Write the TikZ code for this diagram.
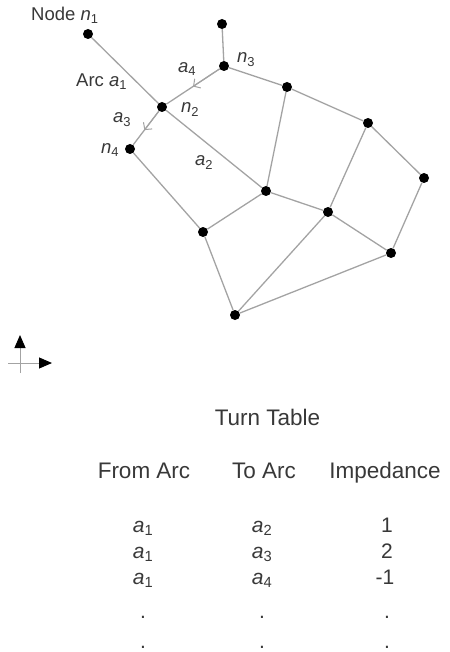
\documentclass[tikz,border=0pt]{standalone}
\usepackage{fontspec}
\setmainfont{Liberation Sans}
\usetikzlibrary{calc,positioning,graphs,arrows.meta}
\definecolor{inkgray}{gray}{0.22}
\definecolor{edgegray}{gray}{0.64}
\newcommand{\lbl}[2]{\textit{#1}\textsubscript{#2}}

\begin{document}
\begin{tikzpicture}[x=1pt, y=-1pt,
        vertex/.style={circle, fill=black, inner sep=0pt, minimum size=10pt},
        edge line/.style={draw=edgegray, line width=1.3pt},
        mid arrow/.style={draw=edgegray, line width=1pt, -{Straight Barb[length=5pt, width=11pt]}},
        axis line/.style={draw=edgegray, line width=1pt, -{Triangle[length=13pt, width=11pt, color=black]}},
        tag/.style={text=inkgray, inner sep=0pt, anchor=base west, font=\fontsize{18.5}{20}\selectfont},
        cell/.style={text=inkgray, inner sep=0pt, anchor=base, font=\fontsize{21}{24}\selectfont},
        head/.style={cell, font=\fontsize{22.5}{26}\selectfont}]
        \useasboundingbox (0,0) rectangle (449,652);

        % the network
        \node[vertex] (n 1)  at (88,34)   {};
        \node[vertex] (n 2)  at (162,107) {};
        \node[vertex] (n 3)  at (224,66)  {};
        \node[vertex] (n 4)  at (130,149) {};
        \node[vertex] (n 5)  at (222,24)  {};
        \node[vertex] (n 6)  at (287,87)  {};
        \node[vertex] (n 7)  at (368,123) {};
        \node[vertex] (n 8)  at (424,178) {};
        \node[vertex] (n 9)  at (266,191) {};
        \node[vertex] (n 10) at (328,212) {};
        \node[vertex] (n 11) at (203,232) {};
        \node[vertex] (n 12) at (391,253) {};
        \node[vertex] (n 13) at (235,315) {};

        \graph[edges={edge line}]{
            (n 1) -- (n 2) -- (n 9) -- (n 10) -- (n 12) -- (n 13);
            (n 5) -- (n 3) -- (n 6) -- (n 7) -- (n 8) -- (n 12);
            (n 3) -- (n 2) -- (n 4) -- (n 11) -- (n 13) -- (n 10) -- (n 7);
            (n 6) -- (n 9) -- (n 11);
        };
        \draw[mid arrow] (n 3) -- ($(n 3)!0.5!(n 2)$);
        \draw[mid arrow] (n 2) -- ($(n 2)!0.55!(n 4)$);

        \node[tag] (node tag) at (31,21)  {Node \lbl{n}{1}};
        \node[tag] (arc tag)  at (76,87)  {Arc \lbl{a}{1}};
        \node[tag] (a4 tag)   at (178,73) {\lbl{a}{4}};
        \node[tag] (n3 tag)   at (237,63) {\lbl{n}{3}};
        \node[tag] (n2 tag)   at (181,113) {\lbl{n}{2}};
        \node[tag] (a3 tag)   at (113,123) {\lbl{a}{3}};
        \node[tag] (n4 tag)   at (101,154) {\lbl{n}{4}};
        \node[tag] (a2 tag)   at (195,166) {\lbl{a}{2}};

        % north / east marker
        \coordinate (axis bottom) at (20,373);
        \coordinate (axis top)    at (20,335);
        \coordinate (axis left)   at (8,363);
        \coordinate (axis right)  at (52,363);
        \draw[axis line] (axis bottom) -- (axis top);
        \draw[axis line] (axis left) -- (axis right);

        % turn table
        \node[head] (title) at (267.5,425) {Turn Table};
        \node[head] (from)  at (144,478) {From Arc};
        \node[head] (to)    at (264,478) {To Arc};
        \node[head] (imp)   at (385,478) {Impedance};

        \node[cell] (from 1) at (143,532) {\lbl{a}{1}};
        \node[cell] (to 1)   at (262,532) {\lbl{a}{2}};
        \node[cell] (imp 1)  at (387,532) {1};
        \node[cell] (from 2) at (143,558) {\lbl{a}{1}};
        \node[cell] (to 2)   at (262,558) {\lbl{a}{3}};
        \node[cell] (imp 2)  at (387,558) {2};
        \node[cell] (from 3) at (143,584) {\lbl{a}{1}};
        \node[cell] (to 3)   at (262,584) {\lbl{a}{4}};
        \node[cell] (imp 3)  at (385,584) {-1};
        \node[cell] (from 4) at (143,618) {.};
        \node[cell] (to 4)   at (262,618) {.};
        \node[cell] (imp 4)  at (387,618) {.};
        \node[cell] (from 5) at (143,648) {.};
        \node[cell] (to 5)   at (262,648) {.};
        \node[cell] (imp 5)  at (387,648) {.};
\end{tikzpicture}
\end{document}
